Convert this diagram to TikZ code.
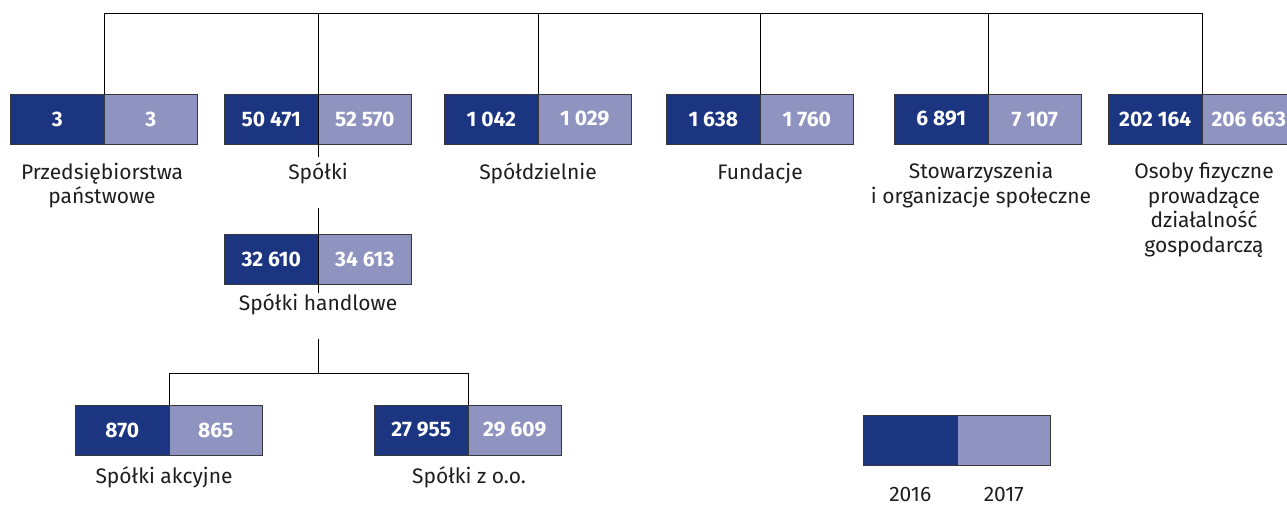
\documentclass[tikz,border=0pt]{standalone}
\usepackage{fontspec}
\setmainfont{Fira Sans}
\usetikzlibrary{positioning}
\definecolor{ciemny}{RGB}{27,53,128}
\definecolor{jasny}{RGB}{143,147,192}
\definecolor{ramka}{RGB}{55,55,60}
\definecolor{napis}{RGB}{30,30,30}
\tikzset{%
	rok16/.style	= {draw=ramka, fill=ciemny, text=white, anchor=north east, inner sep=0pt, outer sep=0pt,
					   minimum width=93.5pt, minimum height=50pt, font=\fontsize{21}{24}\selectfont\bfseries}, % 2016
	rok17/.style	= {rok16, fill=jasny, right=0pt of #1}, % 2017
	opis/.style		= {anchor=base, align=center, inner sep=0pt, text=napis, font=\fontsize{21}{24.5}\selectfont}, % Label (base = last line)
	linia/.style	= {draw, line width=0.9pt} % Connector
}
\begin{document}
\begin{tikzpicture}[x=1pt, y=-1pt]
	\useasboundingbox (0,0) rectangle (1287,504);

	% Top row of units
	\node [rok16] (przed16) at (104,94) {3};
	\node [rok17=przed16] (przed17) {3};
	\node [rok16] (spol16) at (318,94) {50 471};
	\node [rok17=spol16] (spol17) {52 570};
	\node [rok16] (spoldz16) at (538,94) {1 042};
	\node [rok17=spoldz16] (spoldz17) {1 029};
	\node [rok16] (fund16) at (760,94) {1 638};
	\node [rok17=fund16] (fund17) {1 760};
	\node [rok16] (stow16) at (988,94) {6 891};
	\node [rok17=stow16] (stow17) {7 107};
	\node [rok16] (osoby16) at (1202,94) {202 164};
	\node [rok17=osoby16] (osoby17) {206 663};

	\node [opis] (przedopis) at (102,203.5) {Przedsiębiorstwa\\państwowe};
	\node [opis] (spolopis) at (318,179) {Spółki};
	\node [opis] (spoldzopis) at (538,179) {Spółdzielnie};
	\node [opis] (fundopis) at (760,179) {Fundacje};
	\node [opis] (stowopis) at (981,203) {Stowarzyszenia\\i organizacje społeczne};
	\node [opis] (osobyopis) at (1204,252) {Osoby fizyczne\\prowadzące\\działalność\\gospodarczą};

	% Second and third level
	\node [rok16] (handl16) at (318,234) {32 610};
	\node [rok17=handl16] (handl17) {34 613};
	\node [opis] (handlopis) at (318,310) {Spółki handlowe};

	\node [rok16] (akc16) at (169,405) {870};
	\node [rok17=akc16] (akc17) {865};
	\node [opis] (akcopis) at (164,483) {Spółki akcyjne};
	\node [rok16] (zoo16) at (468,405) {27 955};
	\node [rok17=zoo16] (zoo17) {29 609};
	\node [opis] (zooopis) at (469,483) {Spółki z o.o.};

	% Legend
	\node [rok16] (leg16) at (957,415) {};
	\node [rok17=leg16] (leg17) {};
	\node [opis] (leg16opis) at (leg16.south |- 0,501) {2016};
	\node [opis] (leg17opis) at (leg17.south |- 0,501) {2017};

	% Joining blocks
	\coordinate (gora) at (104,13);
	\coordinate (spolA) at (318,157);
	\coordinate (spolB) at (318,208);
	\coordinate (handlA) at (318,293);
	\coordinate (handlB) at (318,339);
	\coordinate (handlC) at (318,373);
	\draw[linia] (przed16.north east) -- (gora) -- (gora -| osoby16.north east) -- (osoby16.north east);
	\draw[linia] (spolA) -- (spolA |- gora);
	\draw[linia] (spoldz16.north east) -- (spoldz16.north east |- gora);
	\draw[linia] (fund16.north east) -- (fund16.north east |- gora);
	\draw[linia] (stow16.north east) -- (stow16.north east |- gora);
	\draw[linia] (spolB) -- (handlA);
	\draw[linia] (handlB) -- (handlC);
	\draw[linia] (akc16.north east) -- (akc16.north east |- handlC) -- (zoo16.north east |- handlC) -- (zoo16.north east);
\end{tikzpicture}
\end{document}
